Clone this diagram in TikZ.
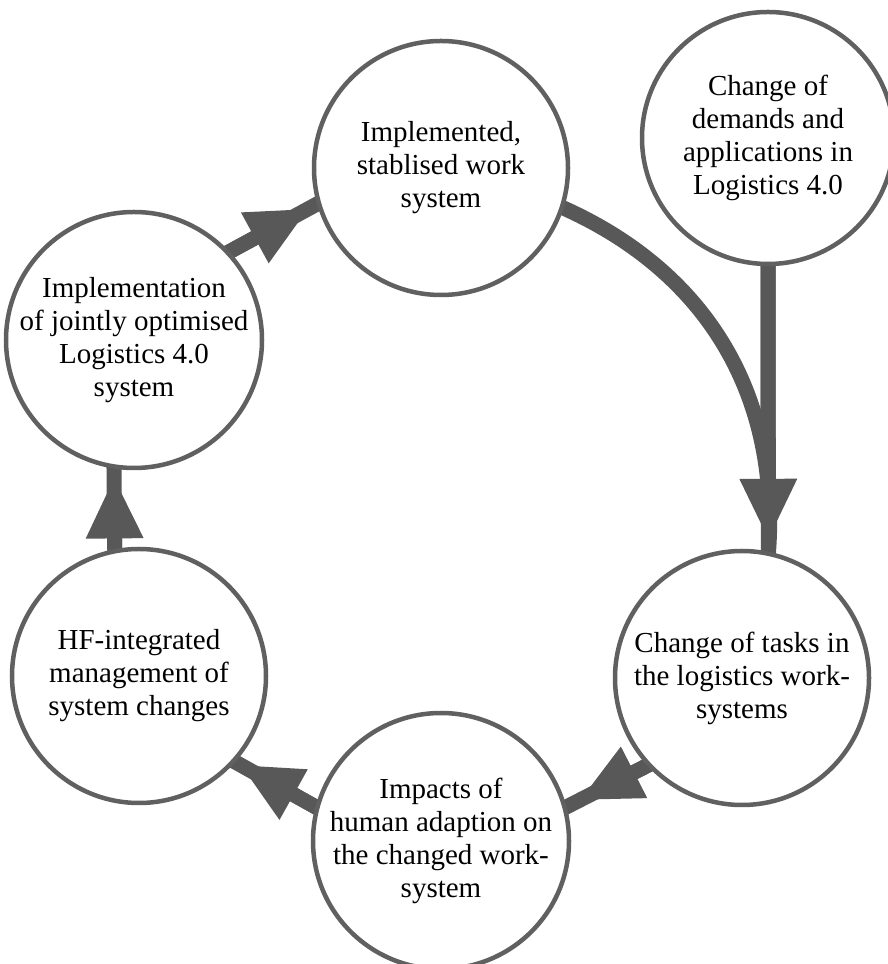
\documentclass[tikz,border=0pt]{standalone}
\usepackage{fontspec}
\setmainfont{Liberation Serif}
\usetikzlibrary{arrows.meta}
\definecolor{ringgray}{RGB}{96,96,96}
\definecolor{flowgray}{RGB}{88,88,88}
\pgfdeclarelayer{back}
\pgfsetlayers{back,main}
\begin{document}
\begin{tikzpicture}[x=1pt,y=1pt,
  stage/.style={circle, draw=ringgray, line width=4.5pt, fill=white,
    inner sep=0pt, outer sep=0pt},
  caption/.style={align=center, inner sep=0pt,
    font=\fontsize{29}{33}\selectfont},
  flow/.style={draw=flowgray, line width=15pt},
  headed/.style={draw=flowgray, line width=15pt,
    -{Triangle[length=60pt,width=58pt,line width=0pt]}}]

\useasboundingbox (0,0) rectangle (888,964);

% stages of the cycle
\node[stage, minimum size=252pt] (T) at (768,826) {};
\node[stage, minimum size=254pt] (A) at (441,796) {};
\node[stage, minimum size=254pt] (B) at (742,286) {};
\node[stage, minimum size=256pt] (C) at (441,123) {};
\node[stage, minimum size=254pt] (D) at (139,288) {};
\node[stage, minimum size=256pt] (E) at (134,624) {};

\node[caption] (T-t) at (T) {Change of\\demands and\\applications in\\Logistics 4.0};
\node[caption] (A-t) at (A) {Implemented,\\stablised work\\system};
\node[caption] (B-t) at (B) {Change of tasks in\\the logistics work-\\systems};
\node[caption] (C-t) at (C) {Impacts of\\human adaption on\\the changed work-\\system};
\node[caption] (D-t) at (D) {HF-integrated\\management of\\system changes};
\node[caption] (E-t) at (E) {Implementation\\of jointly optimised\\Logistics 4.0\\system};

% connectors behind the circles
\begin{pgfonlayer}{back}
  % curved link from the stabilised system to the task change
  \draw[flow, shorten <=-6pt, shorten >=-6pt] (A.342) to[bend left=36] (B.78);
  % external demands feeding in
  \draw[flow, shorten <=-6pt, shorten >=-6pt] (T.270) -- (B.78);
  \draw[headed, shorten <=-6pt, shorten >=15pt] (T.270) -- (B.78);
  % tasks -> impacts
  \draw[flow, shorten <=-6pt, shorten >=-6pt] (B.223) -- (C.15);
  \draw[headed, shorten <=-6pt, shorten >=18pt] (B.223) -- (C.15);
  % impacts -> HF management
  \draw[flow, shorten <=-6pt, shorten >=-6pt] (C.165) -- (D.318);
  \draw[headed, shorten <=-6pt, shorten >=9pt] (C.165) -- (D.318);
  % HF management -> implementation
  \draw[flow, shorten <=-6pt, shorten >=-6pt] (D.101) -- (E.261);
  \draw[headed, shorten <=-6pt, shorten >=12pt] (D.101) -- (E.261);
  % implementation -> stabilised system
  \draw[flow, shorten <=-6pt, shorten >=-6pt] (E.43) -- (A.196);
  \draw[headed, shorten <=-6pt, shorten >=13pt] (E.43) -- (A.196);
\end{pgfonlayer}
\end{tikzpicture}
\end{document}
